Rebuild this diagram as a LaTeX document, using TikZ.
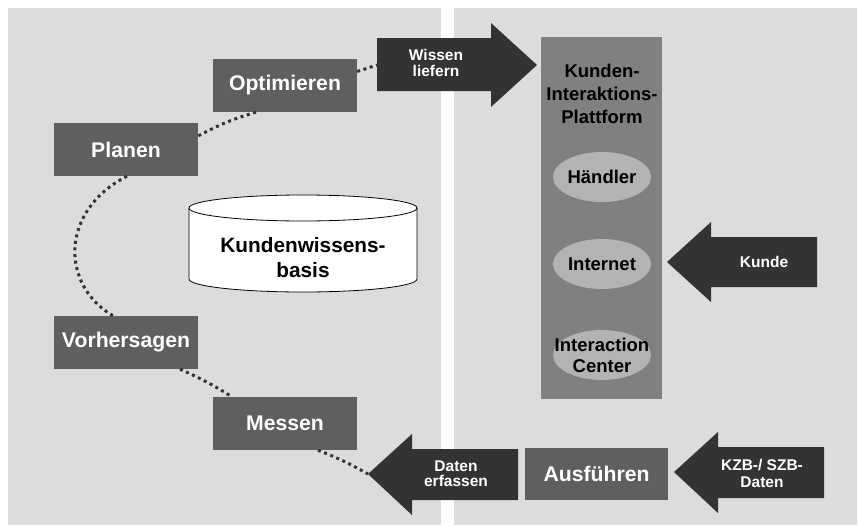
\documentclass[tikz,border=0pt]{standalone}
\usepackage{fontspec}
\setmainfont{Liberation Sans}
\usetikzlibrary{calc,shapes.geometric}

\definecolor{panelgray}{HTML}{DCDCDC}
\definecolor{boxgray}{HTML}{5F5F5F}
\definecolor{arrowdark}{HTML}{333333}
\definecolor{platgray}{HTML}{808080}
\definecolor{ovalgray}{HTML}{B3B3B3}

\tikzset{
  stepbox/.style={fill=boxgray, text=white, inner sep=0pt,
    minimum width=144pt, minimum height=53pt,
    font=\bfseries\fontsize{21.2}{24}\selectfont},
  oval/.style={ellipse, fill=ovalgray, inner sep=0pt,
    minimum width=98pt, minimum height=50pt},
  ovaltext/.style={align=center, inner sep=0pt,
    font=\bfseries\fontsize{18.5}{21}\selectfont},
  bigarrow/.style={fill=arrowdark},
  arrowtext/.style={text=white, align=center, inner sep=0pt,
    font=\bfseries\fontsize{15.5}{16.5}\selectfont},
  dotline/.style={draw=arrowdark, line width=3pt, dash pattern=on 3pt off 3.6pt},
}

\begin{document}
\begin{tikzpicture}[x=1pt, y=-1pt]
  \useasboundingbox (0,0) rectangle (859,525);
  \fill[white] (0,0) rectangle (859,525);

  % two background panels
  \fill[panelgray] (8,8) rectangle (441,525);
  \fill[panelgray] (454,8) rectangle (857,525);

  % customer interaction platform
  \node[fill=platgray, minimum width=121pt, minimum height=362pt, inner sep=0pt]
    (plat) at (601.5,218) {};
  \node[align=center, font=\bfseries\fontsize{18.5}{23}\selectfont]
    (plattxt) at (602,94) {Kunden-\\Interaktions-\\Plattform};
  \node[oval] (hae) at (602,177) {};
  \node[ovaltext] at (hae) {Händler};
  \node[oval] (int) at (602,264) {};
  \node[ovaltext] at (int) {Internet};
  \node[oval] (ic)  at (602,355) {};
  \node[ovaltext] at (ic) {Interaction\\Center};

  % knowledge base cylinder
  \draw[fill=white, line width=0.8pt]
    (189,208) -- (189,279)
    .. controls (189,286.2) and (240,292) .. (303,292)
    .. controls (366,292) and (417,286.2) .. (417,279)
    -- (417,208);
  \draw[fill=white, line width=0.8pt] (303,208) ellipse [x radius=114, y radius=13];
  \node[align=center, font=\bfseries\fontsize{20.8}{25}\selectfont]
    (kb) at (303,258) {Kundenwissens-\\basis};

  % process steps
  \node[stepbox] (opt) at (285,85.5)  {Optimieren};
  \node[stepbox] (pla) at (126,149.5) {Planen};
  \node[stepbox] (vor) at (126,342.5) {Vorhersagen};
  \node[stepbox] (mes) at (285,423.5) {Messen};
  \node[stepbox, minimum width=143pt, minimum height=52pt] (aus) at (596.5,474) {Ausführen};

  % block arrows
  \fill[bigarrow] (377,38) -- (491,38) -- (491,23) -- (537,65) -- (491,107) -- (491,91) -- (377,91) -- cycle;
  \coordinate (wl) at (377,65);
  \node[arrowtext] (wltxt) at (436,63) {Wissen\\liefern};

  \fill[bigarrow] (817,237) -- (711,237) -- (711,222) -- (667,262) -- (711,302) -- (711,287) -- (817,287) -- cycle;
  \node[arrowtext] (kdtxt) at (764,262) {Kunde};

  \fill[bigarrow] (518,449) -- (412,449) -- (412,434) -- (368,474) -- (412,515) -- (412,500) -- (518,500) -- cycle;
  \coordinate (de) at (368,474);
  \node[arrowtext, font=\bfseries\fontsize{15.5}{14.8}\selectfont] (detxt) at (456,474) {Daten\\erfassen};

  \fill[bigarrow] (824,447) -- (718,447) -- (718,432) -- (674,472) -- (718,513) -- (718,498) -- (824,498) -- cycle;
  \node[arrowtext, font=\bfseries\fontsize{15.5}{17}\selectfont] (kzbtxt) at (762,473) {KZB-/ SZB-\\Daten};

  % dotted cycle
  \draw[dotline] ([yshift=14pt]opt.east) -- (wl);
  \draw[dotline] ([xshift=-29pt]opt.south) to[bend right=6] ([yshift=13.5pt]pla.east);
  \draw[dotline] ([xshift=1pt]pla.south) .. controls +(-67,34) and +(-53,-31) .. ([xshift=-13pt]vor.north);
  \draw[dotline] ([xshift=54pt]vor.south) to[bend left=4] ([xshift=-53pt]mes.north);
  \draw[dotline] ([xshift=33pt]mes.south) to[bend left=4] (de);
\end{tikzpicture}
\end{document}
